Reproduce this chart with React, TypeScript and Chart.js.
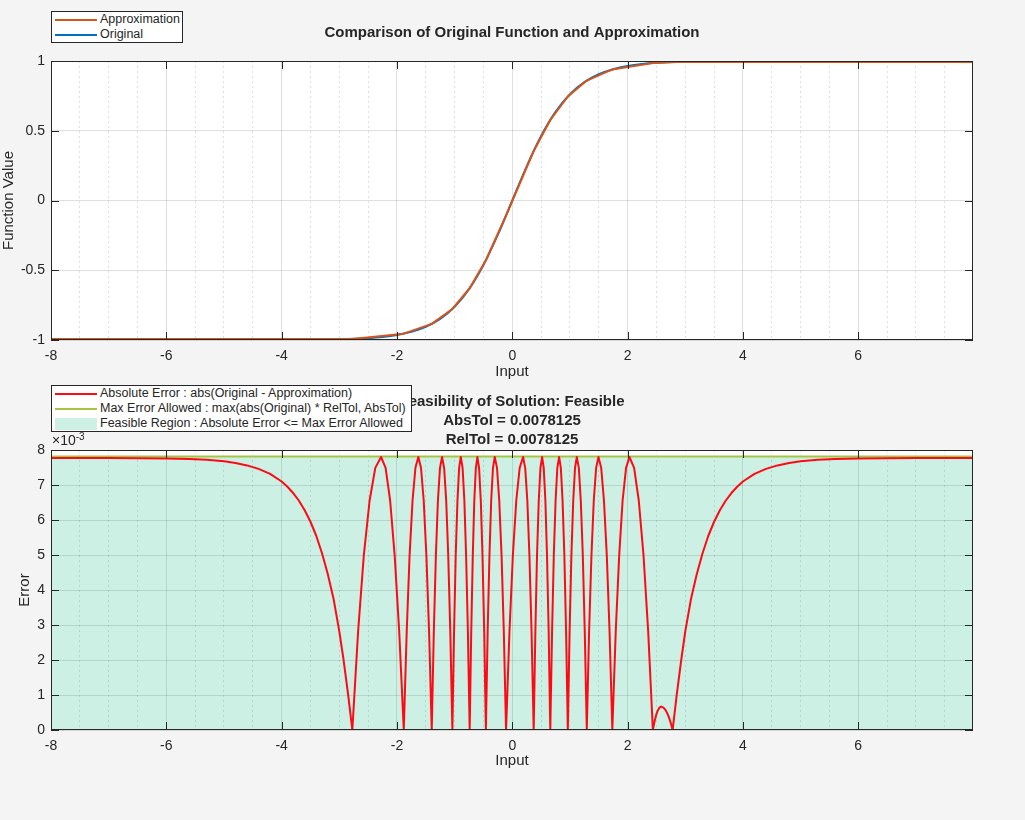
import { useEffect, useRef } from "react"
import { Chart, registerables } from "chart.js"

Chart.register(...registerables)

const FONT = '"Liberation Sans", Arial, Helvetica, sans-serif'
const INK = "#262626"
const GRID = "rgba(38, 38, 38, 0.15)"
const BG = "#f4f4f4"

// shared "Input" axis
const inputMin = -8
const inputMax = 7.99
const inputMinorStep = 0.5
const inputMajorStep = 2

// top plot: original function
const originalX = [
  -8, -6, -5, -4, -3.5, -3, -2.75, -2.5, -2.25, -2, -1.75, -1.5, -1.25, -1, -0.75, -0.5, -0.25, 0,
  0.25, 0.5, 0.75, 1, 1.25, 1.5, 1.75, 2, 2.25, 2.5, 2.75, 3, 3.5, 4, 5, 6, 8,
]
const originalY = [
  -1, -1, -0.9999, -0.9993, -0.9982, -0.9951, -0.9919, -0.9866, -0.978, -0.964, -0.9414, -0.9051,
  -0.8483, -0.7616, -0.6351, -0.4621, -0.2449, 0, 0.2449, 0.4621, 0.6351, 0.7616, 0.8483, 0.9051,
  0.9414, 0.964, 0.978, 0.9866, 0.9919, 0.9951, 0.9982, 0.9993, 0.9999, 1, 1,
]

// top plot: piecewise linear approximation, breakpoints
const approxX = [-8, -2.774, -1.882, -1.397, -1.039, -0.739, -0.458, -0.108, 0.371, 0.659, 0.963, 1.292, 1.735, 2.438, 2.781, 8]
const approxY = [
  -0.9922, -0.9922, -0.9546, -0.8847, -0.7775, -0.6285, -0.4284, -0.1076, 0.3548, 0.5777, 0.7456,
  0.8596, 0.9396, 0.9848, 0.9923, 0.9922,
]

// bottom plot: absolute error, in units of 1e-3
const errorX = [
  -8, -7, -6, -5.6, -5.3, -5, -4.8, -4.6, -4.4, -4.2, -4, -3.9, -3.8, -3.7, -3.6, -3.5, -3.4, -3.3,
  -3.2, -3.1, -3, -2.93, -2.85, -2.774,
  -2.674, -2.575, -2.475, -2.376, -2.276, -2.197, -2.118, -2.04, -1.961, -1.882,
  -1.831, -1.781, -1.73, -1.68, -1.629, -1.583, -1.536, -1.49, -1.443, -1.397,
  -1.361, -1.325, -1.29, -1.254, -1.218, -1.182, -1.146, -1.111, -1.075, -1.039,
  -1.01, -0.981, -0.951, -0.922, -0.893, -0.862, -0.831, -0.801, -0.77, -0.739,
  -0.712, -0.685, -0.659, -0.632, -0.605, -0.576, -0.546, -0.517, -0.487, -0.458,
  -0.427, -0.396, -0.366, -0.335, -0.304, -0.265, -0.226, -0.186, -0.147, -0.108,
  -0.049, 0.01, 0.069, 0.128, 0.187, 0.224, 0.261, 0.297, 0.334, 0.371,
  0.4, 0.429, 0.459, 0.488, 0.517, 0.545, 0.574, 0.602, 0.631, 0.659,
  0.69, 0.72, 0.751, 0.781, 0.812, 0.842, 0.872, 0.903, 0.933, 0.963,
  0.994, 1.025, 1.057, 1.088, 1.119, 1.154, 1.188, 1.223, 1.257, 1.292,
  1.332, 1.373, 1.413, 1.454, 1.494, 1.542, 1.59, 1.639, 1.687, 1.735,
  1.794, 1.854, 1.913, 1.973, 2.032, 2.113, 2.194, 2.276, 2.357, 2.438,
  2.467, 2.496, 2.524, 2.553, 2.582, 2.622, 2.662, 2.701, 2.741, 2.781,
  2.85, 2.93, 3, 3.1, 3.2, 3.3, 3.4, 3.5, 3.6, 3.7, 3.8, 3.9, 4, 4.2, 4.4, 4.6, 4.8, 5, 5.3, 5.6,
  6, 7, 8,
]
const errorY = [
  7.77, 7.77, 7.76, 7.745, 7.72, 7.68, 7.63, 7.56, 7.46, 7.32, 7.1, 6.95, 6.77, 6.55, 6.28, 5.95,
  5.55, 5.05, 4.46, 3.75, 2.82, 2.05, 1.05, 0,
  2.81, 4.99, 6.55, 7.49, 7.8, 7.49, 6.55, 4.99, 2.81, 0,
  2.81, 4.99, 6.55, 7.49, 7.8, 7.49, 6.55, 4.99, 2.81, 0,
  2.81, 4.99, 6.55, 7.49, 7.8, 7.49, 6.55, 4.99, 2.81, 0,
  2.81, 4.99, 6.55, 7.49, 7.8, 7.49, 6.55, 4.99, 2.81, 0,
  2.81, 4.99, 6.55, 7.49, 7.8, 7.49, 6.55, 4.99, 2.81, 0,
  2.81, 4.99, 6.55, 7.49, 7.8, 7.49, 6.55, 4.99, 2.81, 0,
  2.81, 4.99, 6.55, 7.49, 7.8, 7.49, 6.55, 4.99, 2.81, 0,
  2.81, 4.99, 6.55, 7.49, 7.8, 7.49, 6.55, 4.99, 2.81, 0,
  2.81, 4.99, 6.55, 7.49, 7.8, 7.49, 6.55, 4.99, 2.81, 0,
  2.81, 4.99, 6.55, 7.49, 7.8, 7.49, 6.55, 4.99, 2.81, 0,
  2.81, 4.99, 6.55, 7.49, 7.8, 7.49, 6.55, 4.99, 2.81, 0,
  2.81, 4.99, 6.55, 7.49, 7.8, 7.49, 6.55, 4.99, 2.81, 0,
  0.24, 0.43, 0.56, 0.64, 0.67, 0.64, 0.56, 0.43, 0.24, 0,
  0.98, 2.0, 2.82, 3.75, 4.46, 5.05, 5.55, 5.95, 6.28, 6.55, 6.77, 6.95, 7.1, 7.32, 7.46, 7.56,
  7.63, 7.68, 7.72, 7.745, 7.76, 7.77, 7.77,
]

// max error allowed = max(abs(Original) * RelTol, AbsTol), units of 1e-3
const maxErrorX = [-8, 8]
const maxErrorY = [7.8125, 7.8125]

const absTol = "0.0078125"
const relTol = "0.0078125"

const toPoints = (xs: number[], ys: number[]) => xs.map((x, i) => ({ x, y: ys[i] }))

// white plot area, MATLAB style box with inward tick marks
const axesBox = {
  id: "axesBox",
  beforeDraw(chart: any) {
    const { ctx, chartArea } = chart
    ctx.save()
    ctx.fillStyle = "#ffffff"
    ctx.fillRect(chartArea.left, chartArea.top, chartArea.right - chartArea.left, chartArea.bottom - chartArea.top)
    ctx.restore()
  },
  afterDatasetsDraw(chart: any) {
    const { ctx, chartArea } = chart
    const { left, right, top, bottom } = chartArea
    const xs = chart.scales.x
    const ys = chart.scales.y
    ctx.save()
    ctx.strokeStyle = INK
    ctx.lineWidth = 1
    ctx.beginPath()
    xs.ticks.forEach((t: any) => {
      if (t.value % inputMajorStep !== 0) return
      const px = Math.round(xs.getPixelForValue(t.value)) + 0.5
      ctx.moveTo(px, bottom)
      ctx.lineTo(px, bottom - 8)
      ctx.moveTo(px, top)
      ctx.lineTo(px, top + 8)
    })
    ys.ticks.forEach((t: any) => {
      const py = Math.round(ys.getPixelForValue(t.value)) + 0.5
      ctx.moveTo(left, py)
      ctx.lineTo(left + 8, py)
      ctx.moveTo(right, py)
      ctx.lineTo(right - 8, py)
    })
    ctx.stroke()
    ctx.strokeRect(left + 0.5, top + 0.5, right - left - 1, bottom - top - 1)
    ctx.restore()
  },
}

function inputAxis(height: number) {
  return {
    type: "linear",
    min: inputMin,
    max: inputMax,
    afterFit: (scale: any) => {
      scale.height = height
    },
    ticks: {
      stepSize: inputMinorStep,
      includeBounds: false,
      autoSkip: false,
      maxRotation: 0,
      padding: 8,
      color: INK,
      font: { family: FONT, size: 14 },
      callback: (v: number) => (v % inputMajorStep === 0 ? String(v) : ""),
    },
    grid: { color: GRID, drawTicks: false },
    border: {
      display: false,
      dash: (ctx: any) => (ctx.tick && ctx.tick.value % inputMajorStep !== 0 ? [2, 3] : []),
    },
    title: {
      display: true,
      text: "Input",
      color: INK,
      font: { family: FONT, size: 15 },
      padding: { top: 0, bottom: 4 },
    },
  }
}

function valueAxis(min: number, max: number, step: number, label: string, titlePad: number) {
  return {
    min,
    max,
    afterFit: (scale: any) => {
      scale.width = 51
    },
    ticks: {
      stepSize: step,
      padding: 6,
      color: INK,
      font: { family: FONT, size: 14 },
      callback: (v: number) => String(v),
    },
    grid: { color: GRID, drawTicks: false },
    border: { display: false },
    title: {
      display: true,
      text: label,
      color: INK,
      font: { family: FONT, size: 15 },
      padding: { top: titlePad, bottom: 0 },
    },
  }
}

function ComparisonPlot() {
  const chartRef = useRef<HTMLCanvasElement>(null)

  useEffect(() => {
    if (!chartRef.current) return
    const chart = new Chart(chartRef.current, {
      type: "line",
      data: {
        datasets: [
          {
            label: "Approximation",
            data: toPoints(approxX, approxY),
            borderColor: "#D95319",
            borderWidth: 2,
            borderJoinStyle: "round",
            pointRadius: 0,
          },
          {
            label: "Original",
            data: toPoints(originalX, originalY),
            borderColor: "#0072BD",
            borderWidth: 2,
            borderJoinStyle: "round",
            pointRadius: 0,
            cubicInterpolationMode: "monotone",
          },
        ],
      },
      options: {
        animation: false,
        responsive: true,
        maintainAspectRatio: false,
        layout: { padding: { left: 0, right: 52, top: 0, bottom: 0 } },
        scales: {
          x: inputAxis(45),
          y: valueAxis(-1, 1, 0.5, "Function Value", 0),
        } as any,
        plugins: {
          legend: { display: false },
          tooltip: { enabled: false },
          title: {
            display: true,
            fullSize: false,
            text: "Comparison of Original Function and Approximation",
            color: INK,
            font: { family: FONT, size: 15, weight: "bold", lineHeight: 1.2 },
            padding: { top: 24, bottom: 19 },
          },
        },
      },
      plugins: [axesBox],
    })
    return () => chart.destroy()
  }, [])

  return <canvas ref={chartRef} style={{ display: "block" }} />
}

function ErrorPlot() {
  const chartRef = useRef<HTMLCanvasElement>(null)

  useEffect(() => {
    if (!chartRef.current) return
    const chart = new Chart(chartRef.current, {
      type: "line",
      data: {
        datasets: [
          {
            label: "Absolute Error",
            data: toPoints(errorX, errorY),
            borderColor: "#ff0a14",
            borderWidth: 2,
            borderJoinStyle: "round",
            pointRadius: 0,
          },
          {
            label: "Max Error Allowed",
            data: toPoints(maxErrorX, maxErrorY),
            borderColor: "#a5c540",
            borderWidth: 2,
            pointRadius: 0,
          },
          {
            label: "Feasible Region",
            data: toPoints(maxErrorX, maxErrorY),
            borderWidth: 0,
            pointRadius: 0,
            backgroundColor: "rgba(5, 180, 120, 0.2)",
            fill: "origin",
          },
        ],
      },
      options: {
        animation: false,
        responsive: true,
        maintainAspectRatio: false,
        layout: { padding: { left: 0, right: 52, top: 0, bottom: 46 } },
        scales: {
          x: inputAxis(44),
          y: valueAxis(0, 8, 1, "Error", 16),
        } as any,
        plugins: {
          legend: { display: false },
          tooltip: { enabled: false },
          title: {
            display: true,
            fullSize: false,
            text: [
              "Feasibility of Solution: Feasible",
              `AbsTol = ${absTol}`,
              `RelTol = ${relTol}`,
            ],
            color: INK,
            font: { family: FONT, size: 15, weight: "bold", lineHeight: 1.28 },
            padding: { top: 7, bottom: 0.4 },
          },
        },
      },
      plugins: [axesBox],
    })
    return () => chart.destroy()
  }, [])

  return <canvas ref={chartRef} style={{ display: "block" }} />
}

interface LegendItem {
  label: string
  color: string
  patch?: boolean
}

function LegendBox({ left, top, width, items }: { left: number; top: number; width: number; items: LegendItem[] }) {
  return (
    <div
      style={{
        position: "absolute",
        left,
        top,
        width,
        boxSizing: "border-box",
        border: `1px solid ${INK}`,
        background: "#fff",
        font: `12.5px ${FONT}`,
        color: INK,
      }}
    >
      {items.map((item) => (
        <div key={item.label} style={{ display: "flex", alignItems: "center", height: 15, whiteSpace: "nowrap" }}>
          <span
            style={{ marginLeft: 3, width: 42, height: item.patch ? 12 : 2, background: item.color, flex: "none" }}
          />
          <span style={{ marginLeft: 3, lineHeight: "15px" }}>{item.label}</span>
        </div>
      ))}
    </div>
  )
}

export default function App() {
  useEffect(() => {
    document.body.style.margin = "0"
    document.body.style.background = BG
  }, [])

  return (
    <div style={{ position: "relative", width: 1025, height: 820, background: BG, fontFamily: FONT }}>
      <div style={{ position: "absolute", left: 0, top: 0, width: 1025, height: 385 }}>
        <ComparisonPlot />
      </div>
      <div style={{ position: "absolute", left: 0, top: 385, width: 1025, height: 435 }}>
        <ErrorPlot />
      </div>
      <LegendBox
        left={51}
        top={11}
        width={132}
        items={[
          { label: "Approximation", color: "#D95319" },
          { label: "Original", color: "#0072BD" },
        ]}
      />
      <LegendBox
        left={51}
        top={385}
        width={361}
        items={[
          { label: "Absolute Error : abs(Original - Approximation)", color: "#ff0a14" },
          { label: "Max Error Allowed : max(abs(Original) * RelTol, AbsTol)", color: "#a5c540" },
          { label: "Feasible Region : Absolute Error <= Max Error Allowed", color: "#cdf0e4", patch: true },
        ]}
      />
      <div style={{ position: "absolute", left: 52, top: 429, font: `14px ${FONT}`, lineHeight: "16px", color: INK }}>
        ×10<sup style={{ fontSize: 10, verticalAlign: 5 }}>-3</sup>
      </div>
    </div>
  )
}
